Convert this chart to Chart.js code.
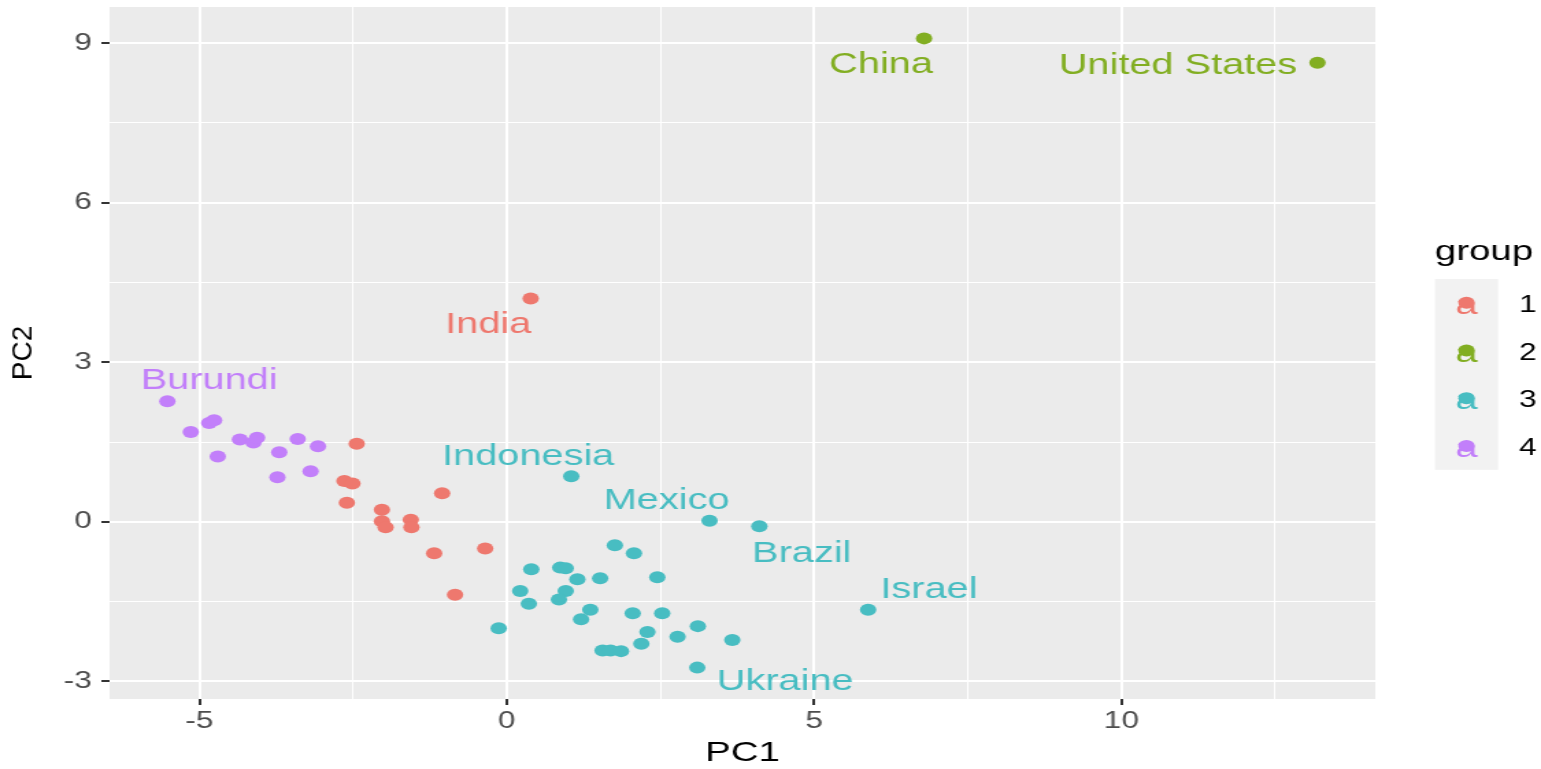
<!DOCTYPE html>
<html>
<head>
<meta charset="utf-8">
<title>PC1 / PC2 by group</title>
<script src="https://cdn.jsdelivr.net/npm/chart.js@4.4.1/dist/chart.umd.min.js"></script>
<style>
  html, body { margin: 0; padding: 0; background: #fff; }
  canvas { display: block; }
</style>
</head>
<body>
<!-- drawn at 1125 wide, shown at 1541 wide (the original plot is stretched sideways) -->
<canvas id="pcaChart" width="1125" height="769" style="width:1541px;height:769px"></canvas>
<script>
// ---- values ----
// the labels name the first points of each group
const g1Labels = ['India'];
const g1PC1 = [0.39, -2.44, -2.64, -2.51, -2.60, -2.03, -1.05, -2.03, -1.97, -1.56, -1.55, -1.18, -0.35, -0.84];
const g1PC2 = [4.20, 1.47, 0.77, 0.72, 0.36, 0.23, 0.54, 0.01, -0.10, 0.04, -0.10, -0.59, -0.50, -1.37];

const g2Labels = ['China', 'United States'];
const g2PC1 = [6.79, 13.19];
const g2PC2 = [9.09, 8.63];

const g3Labels = ['Indonesia', 'Mexico', 'Brazil', 'Israel', 'Ukraine'];
const g3PC1 = [1.05, 3.30, 4.11, 5.88, 3.10, 1.76, 2.07, 0.40, 0.87, 0.96, 1.15, 1.52, 2.45, 0.22, 0.96,
               0.85, 0.36, 1.36, 1.21, 2.05, 2.53, -0.13, 2.29, 3.11, 2.78, 3.67, 2.19, 1.56, 1.69, 1.86];
const g3PC2 = [0.86, 0.02, -0.08, -1.65, -2.74, -0.44, -0.59, -0.89, -0.86, -0.87, -1.08, -1.06, -1.04, -1.30, -1.30,
               -1.46, -1.54, -1.65, -1.83, -1.72, -1.72, -2.00, -2.07, -1.96, -2.16, -2.22, -2.29, -2.42, -2.42, -2.43];

const g4Labels = ['Burundi'];
const g4PC1 = [-5.52, -5.14, -4.84, -4.76, -4.70, -4.34, -4.12, -4.06, -3.70, -3.73, -3.40, -3.19, -3.07];
const g4PC2 = [2.27, 1.69, 1.86, 1.91, 1.23, 1.55, 1.49, 1.58, 1.31, 0.84, 1.56, 0.95, 1.42];

const groupNames = ['1', '2', '3', '4'];
const groupColors = ['#EE786E', '#82AE22', '#48BDC2', '#C27FFA'];

const xTicks = [-5, 0, 5, 10];
const xMinor = [-2.5, 2.5, 7.5, 12.5];
const yTicks = [-3, 0, 3, 6, 9];
const yMinor = [-1.5, 1.5, 4.5, 7.5];

// where each label sits relative to its point (PC units, like nudge_x / nudge_y)
const labelNudge = {
    'India': [-0.69, -0.46],
    'China': [-0.70, -0.45],
    'United States': [-2.27, -0.02],
    'Indonesia': [-0.70, 0.41],
    'Mexico': [-0.70, 0.42],
    'Brazil': [0.69, -0.47],
    'Israel': [0.99, 0.42],
    'Ukraine': [1.43, -0.22],
    'Burundi': [0.68, 0.43]
};

const groups = [
    { pc1: g1PC1, pc2: g1PC2, labels: g1Labels },
    { pc1: g2PC1, pc2: g2PC2, labels: g2Labels },
    { pc1: g3PC1, pc2: g3PC2, labels: g3Labels },
    { pc1: g4PC1, pc2: g4PC2, labels: g4Labels }
].map((g, i) => ({ ...g, name: groupNames[i], color: groupColors[i] }));

const stretchX = 1541 / 1125;
const px = v => v / stretchX;   // screen x -> canvas x
const FONT = "'Liberation Sans', Arial, Helvetica, sans-serif";

function gridValues(major, minor) {
    return major.concat(minor).sort((a, b) => a - b);
}

function axis(major, minor, opts) {
    const isMajor = v => major.includes(v);
    return {
        type: 'linear',
        bounds: 'data',
        min: opts.min,
        max: opts.max,
        afterBuildTicks: s => { s.ticks = gridValues(major, minor).map(v => ({ value: v })); },
        afterFit: opts.afterFit,
        ticks: {
            autoSkip: false,
            maxRotation: 0,
            padding: opts.padding,
            color: '#4D4D4D',
            font: { family: FONT, size: 23 },
            callback: v => (isMajor(v) ? String(v) : '')
        },
        grid: {
            color: '#FFFFFF',
            lineWidth: c => (c.tick && isMajor(c.tick.value) ? 2 : 1),
            tickLength: 6,
            tickWidth: 2,
            tickColor: c => (c.tick && isMajor(c.tick.value) ? '#333333' : 'rgba(0,0,0,0)')
        },
        border: { display: false },
        title: opts.title
    };
}

const ggPlugin = {
    id: 'ggLook',
    beforeDraw(chart) {
        const { ctx, chartArea: a } = chart;
        ctx.save();
        ctx.fillStyle = '#FFFFFF';
        ctx.fillRect(0, 0, chart.width, chart.height);
        ctx.fillStyle = '#EBEBEB';
        ctx.fillRect(a.left, a.top, a.right - a.left, a.bottom - a.top);
        ctx.restore();
    },
    afterDatasetsDraw(chart) {
        const { ctx, scales: { x, y } } = chart;
        ctx.save();
        ctx.font = `29px ${FONT}`;
        ctx.textAlign = 'center';
        ctx.textBaseline = 'alphabetic';
        groups.forEach(g => {
            g.labels.forEach((name, i) => {
                const [dx, dy] = labelNudge[name];
                ctx.fillStyle = g.color;
                // baseline half a cap height below the label centre
                ctx.fillText(name, x.getPixelForValue(g.pc1[i] + dx), y.getPixelForValue(g.pc2[i] + dy) + 10.5);
            });
        });
        ctx.restore();
    },
    afterDraw(chart) {
        const { ctx, chartArea: a } = chart;

        // y title, undo the sideways stretch so it keeps its proportions
        ctx.save();
        ctx.translate(px(24), (a.top + a.bottom) / 2);
        ctx.scale(1 / stretchX, 1);
        ctx.rotate(-Math.PI / 2);
        ctx.fillStyle = '#000000';
        ctx.font = `28px ${FONT}`;
        ctx.textAlign = 'center';
        ctx.textBaseline = 'middle';
        ctx.fillText('PC2', 0, 0);
        ctx.restore();

        // legend
        const keyLeft = px(1435);
        const keyW = px(1498) - px(1435);
        const keyTop = 279;
        const keyH = 47.7;
        ctx.save();
        ctx.fillStyle = '#000000';
        ctx.font = `28px ${FONT}`;
        ctx.textAlign = 'left';
        ctx.textBaseline = 'alphabetic';
        ctx.fillText('group', keyLeft, 260);
        ctx.fillStyle = '#F2F2F2';
        ctx.fillRect(keyLeft, keyTop, keyW, keyH * groups.length);
        groups.forEach((g, i) => {
            const cy = keyTop + keyH * (i + 0.5);
            const cx = keyLeft + keyW / 2;
            ctx.fillStyle = g.color;
            ctx.font = `29px ${FONT}`;
            ctx.textAlign = 'center';
            ctx.fillText('a', cx, cy + 11);
            ctx.beginPath();
            ctx.arc(cx, cy, 6, 0, Math.PI * 2);
            ctx.fill();
            ctx.fillStyle = '#000000';
            ctx.font = `23px ${FONT}`;
            ctx.textAlign = 'left';
            ctx.fillText(g.name, px(1519), cy + 9);
        });
        ctx.restore();
    }
};

const ctx = document.getElementById('pcaChart').getContext('2d');
new Chart(ctx, {
    type: 'scatter',
    data: {
        datasets: groups.map(g => ({
            label: g.name,
            data: g.pc1.map((v, i) => ({ x: v, y: g.pc2[i] })),
            backgroundColor: g.color,
            borderWidth: 0,
            pointRadius: 6,
            pointHoverRadius: 6
        }))
    },
    options: {
        responsive: false,
        animation: false,
        devicePixelRatio: 1,
        events: [],
        layout: { padding: { top: 7, right: 121, bottom: 0, left: 0 }, autoPadding: false },
        plugins: { legend: { display: false }, tooltip: { enabled: false } },
        scales: {
            x: axis(xTicks, xMinor, {
                min: -6.46, max: 14.13, padding: 3,
                afterFit: s => { s.height = 70; s.paddingLeft = 0; s.paddingRight = 0; },
                title: { display: true, text: 'PC1', color: '#000000', padding: 0,
                         font: { family: FONT, size: 28, lineHeight: 1.1 } }
            }),
            y: axis(yTicks, yMinor, {
                min: -3.33, max: 9.68, padding: 7,
                afterFit: s => { s.width = 80; s.paddingTop = 0; s.paddingBottom = 0; },
                title: { display: false }
            })
        }
    },
    plugins: [ggPlugin]
});
</script>
</body>
</html>
